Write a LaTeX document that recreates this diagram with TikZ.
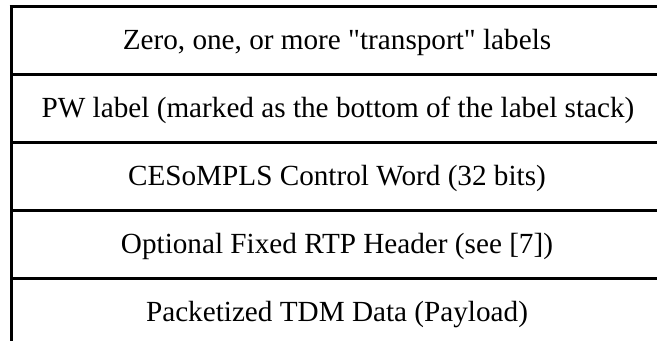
\documentclass[tikz,border=0pt]{standalone}
\usepackage{fontspec}
\setmainfont{Liberation Serif}[Ligatures=TeXOff]
\begin{document}
\begin{tikzpicture}[x=1pt,y=-1pt,
  rule/.style={line width=3pt,black},
  cell/.style={anchor=base,inner sep=0pt,font=\fontsize{29.2}{32}\selectfont}]
\useasboundingbox (0,0) rectangle (657,341);
\coordinate (tl) at (11,6);
\coordinate (bl) at (11,341);
\coordinate (r0) at (660,6);
\draw[rule] ([xshift=-1.5pt]tl) -- (r0);
\draw[rule] (tl) -- (bl);
\foreach \y in {74,142,210,278} {
  \draw[rule] (11,\y) -- (660,\y);
}
\node[cell] (t1) at (337,49) {Zero, one, or more "transport" labels};
\node[cell] (t2) at (338,117) {PW label (marked as the bottom of the label stack)};
\node[cell] (t3) at (337,185) {CESoMPLS Control Word (32 bits)};
\node[cell] (t4) at (337,253) {Optional Fixed RTP Header (see [7])};
\node[cell] (t5) at (337,321) {Packetized TDM Data (Payload)};
\end{tikzpicture}
\end{document}
